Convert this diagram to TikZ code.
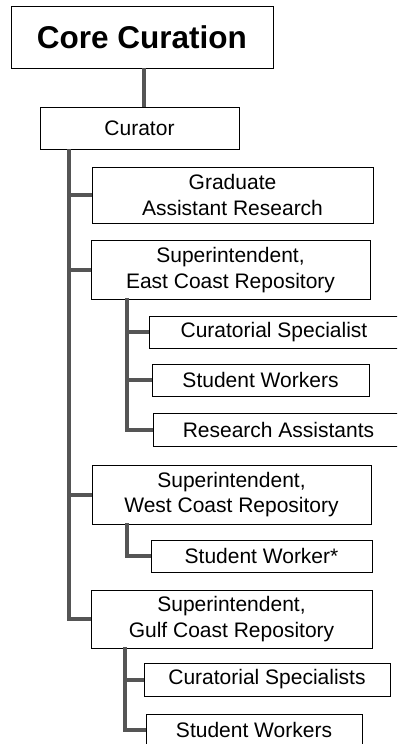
\documentclass[tikz,border=0pt]{standalone}
\usepackage{fontspec}
\setmainfont{Liberation Sans}
\begin{document}
\begin{tikzpicture}[x=1pt,y=1pt,
  box/.style={draw=black, line width=1pt, fill=white, inner sep=0pt, align=center,
    font=\fontsize{21}{25.5}\selectfont},
  link/.style={draw=linkgray, line width=4pt},
]
\definecolor{linkgray}{HTML}{555555}
\useasboundingbox (0,0) rectangle (397,-744);
\clip (0,0) rectangle (397,-744);
% connectors first (behind boxes)
\coordinate (trunk) at (69,-149);
\coordinate (etrunk) at (127,-298);
\coordinate (wtrunk) at (127,-523);
\coordinate (gtrunk) at (125,-647);
\coordinate (toplink) at (144,-68);
% boxes
\node[box, minimum width=262, minimum height=62, font=\fontsize{31.5}{36}\selectfont\bfseries] (core) at (142,-37) {Core Curation};
\node[box, minimum width=199, minimum height=42] (curator) at (139.5,-128) {Curator};
\node[box, minimum width=281, minimum height=56] (grad) at (232.5,-195) {Graduate\\Assistant Research};
\node[box, minimum width=279, minimum height=59] (east) at (230.5,-270) {Superintendent,\\East Coast Repository};
\node[box, minimum width=250, minimum height=32] (cs1) at (274,-332) {Curatorial Specialist};
\node[box, minimum width=217, minimum height=32] (sw1) at (260.5,-380) {Student Workers};
\node[box, minimum width=251, minimum height=33] (ra) at (278.5,-429.5) {Research Assistants};
\node[box, minimum width=279, minimum height=59] (west) at (231.5,-494.5) {Superintendent,\\West Coast Repository};
\node[box, minimum width=221, minimum height=32] (swstar) at (261.5,-556) {Student Worker*};
\node[box, minimum width=281, minimum height=58] (gulf) at (231.5,-619) {Superintendent,\\Gulf Coast Repository};
\node[box, minimum width=246, minimum height=33] (cs2) at (267,-679.5) {Curatorial Specialists};
\node[box, minimum width=216, minimum height=32] (sw2) at (254,-730) {Student Workers};
% links
\draw[link] (toplink) -- (toplink |- curator.north);
\draw[link] (trunk) |- (gulf.west);
\draw[link] (trunk) |- (grad.west);
\draw[link] (trunk) |- (east.west);
\draw[link] (trunk) |- (west.west);
\draw[link] (etrunk) |- (ra.west);
\draw[link] (etrunk) |- (cs1.west);
\draw[link] (etrunk) |- (sw1.west);
\draw[link] (wtrunk) |- (swstar.west);
\draw[link] (gtrunk) |- (sw2.west);
\draw[link] (gtrunk) |- (cs2.west);
\end{tikzpicture}
\end{document}
